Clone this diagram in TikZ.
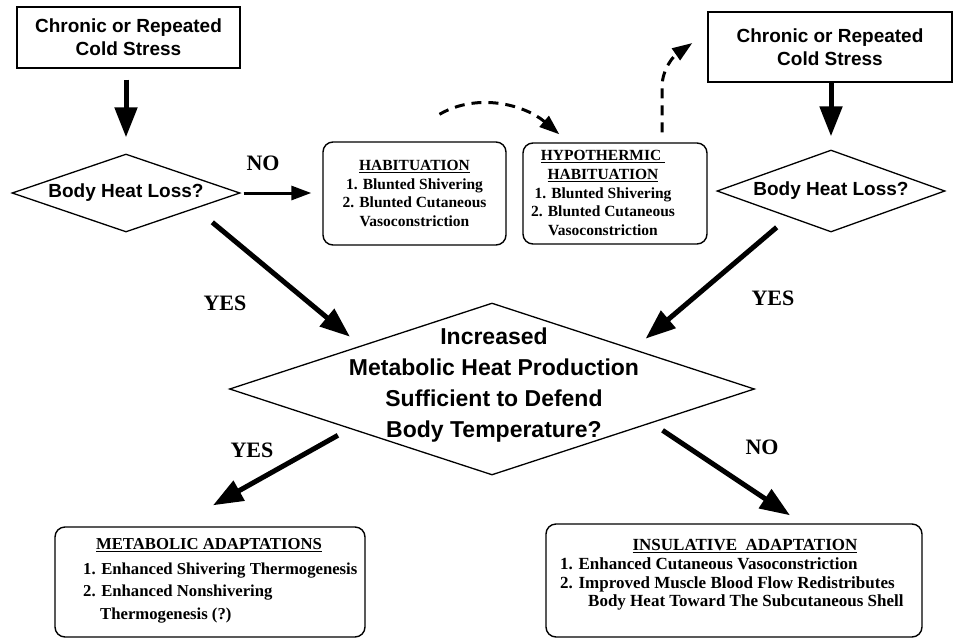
\documentclass[tikz,border=0pt]{standalone}
\usepackage{fontspec}
\setmainfont{Liberation Serif}
\newfontfamily\sansb{Liberation Sans}
\usetikzlibrary{arrows.meta,shapes.geometric,calc}
\begin{document}
\begin{tikzpicture}[x=1pt,y=-1pt,
  box/.style={draw, line width=1.4pt, inner sep=0pt},
  rbox/.style={draw, line width=1.4pt, rounded corners=10pt, inner sep=0pt},
  dia/.style={draw, diamond, line width=1.3pt, inner sep=0pt},
  sanst/.style={font=\sansb\bfseries\fontsize{19}{23}\selectfont, align=center},
  bigt/.style={font=\sansb\bfseries\fontsize{23}{31}\selectfont, align=center},
  smallt/.style={font=\bfseries\fontsize{15.5}{18.7}\selectfont, align=center},
  lab/.style={font=\bfseries\fontsize{22}{24}\selectfont},
  fat/.style={line width=5pt, -{Triangle[length=30pt,width=22pt]}},
  noarrow/.style={line width=3pt, -{Triangle[length=20pt,width=14pt]}},
  dasharrow/.style={line width=3pt, dash pattern=on 10pt off 7pt, -{Triangle[length=20pt,width=14pt]}},
]
\useasboundingbox (0,0) rectangle (954,641);

% top boxes
\node[box, sanst, minimum width=223, minimum height=61] (c1) at (128.5,37.5) {Chronic or Repeated\\Cold Stress};
\node[box, sanst, minimum width=244, minimum height=70] (c2) at (830,47) {Chronic or Repeated\\Cold Stress};

% small diamonds
\node[dia, sanst, shape aspect=3.0, minimum width=228, minimum height=78] (d1) at (126,193) {Body Heat Loss?};
\node[dia, sanst, shape aspect=2.85, minimum width=228, minimum height=82] (d2) at (831,191) {Body Heat Loss?};

% habituation boxes
\node[rbox, smallt, minimum width=183, minimum height=103] (hab) at (414.5,193.5)
  {\underline{HABITUATION}\\1. Blunted Shivering\\2. Blunted Cutaneous\\Vasoconstriction};
\node[rbox, minimum width=184, minimum height=101] (hypo) at (615,193.5) {};
\node[smallt] (hypot) at (603,193) {\underline{HYPOTHERMIC\ }\\\underline{HABITUATION}\\1. Blunted Shivering\\2. Blunted Cutaneous\\Vasoconstriction};

% big diamond
\node[dia, minimum width=525, minimum height=172] (q) at (492,389) {};
\node[bigt] (qt) at (494,385) {Increased\\Metabolic Heat Production\\Sufficient to Defend\\Body Temperature?};

% bottom boxes
\node[rbox, minimum width=310, minimum height=110] (mbox) at (210,582) {};
\node[font=\bfseries\fontsize{16.7}{18}\selectfont] (mhead) at (209,545) {\underline{METABOLIC ADAPTATIONS}};
\node[font=\bfseries\fontsize{16.7}{22.5}\selectfont, align=left, anchor=west, inner sep=0pt] (mtext) at (83,593)
  {1. Enhanced Shivering Thermogenesis\\2. Enhanced Nonshivering\\\hspace*{17pt}Thermogenesis (?)};

\node[rbox, minimum width=376, minimum height=113] (ibox) at (734,580.5) {};
\node[font=\bfseries\fontsize{17}{18}\selectfont] (ihead) at (745,546) {\underline{INSULATIVE\ \ ADAPTATION}};
\node[font=\bfseries\fontsize{17}{18.8}\selectfont, align=left, anchor=west, inner sep=0pt] (itext) at (560,584)
  {1. Enhanced Cutaneous Vasoconstriction\\2. Improved Muscle Blood Flow Redistributes\\\hspace*{28pt}Body Heat Toward The Subcutaneous Shell};

% arrows
\draw[fat, shorten <=11pt, shorten >=16pt] (c1.south -| d1.north) -- (d1.north);
\draw[fat, shorten <=0pt, shorten >=13pt] (c2.south -| d2.north) -- (d2.north);
\draw[noarrow, shorten <=3pt, shorten >=11pt] (d1.east) -- (d1.east -| hab.west);
\draw[fat] ($(d1.south east)+(29,9.5)$) -- ($(q.north west)+(-10.5,-9)$);
\draw[fat] ($(d2.south west)+(3,15.5)$) -- ($(q.north east)+(22,-7)$);
\draw[fat] ($(q.south west)+(-22.5,3)$) -- ($(mbox.north)+(3,-21)$);
\draw[fat] ($(q.south east)+(39,-2)$) -- ($(ibox.north)+(56,-8)$);

% dashed arrows
\draw[dasharrow] ($(hab.north)+(25,-27)$) .. controls (478,92) and (525,105) .. ($(hypo.north west)+(37,-8)$);
\coordinate (bend) at ($(hypo.north)+(47,-55)$);
\draw[dasharrow] ($(hypo.north)+(47,-10)$) -- (bend) .. controls (662,68) and (675,55) .. ($(c2.west)+(-15,-4)$);

% labels
\node[lab] (no1) at (263,163) {NO};
\node[lab] (yes1) at (225,303) {YES};
\node[lab] (yes2) at (773,298) {YES};
\node[lab] (yes3) at (252,450) {YES};
\node[lab] (no2) at (762,447) {NO};
\end{tikzpicture}
\end{document}
